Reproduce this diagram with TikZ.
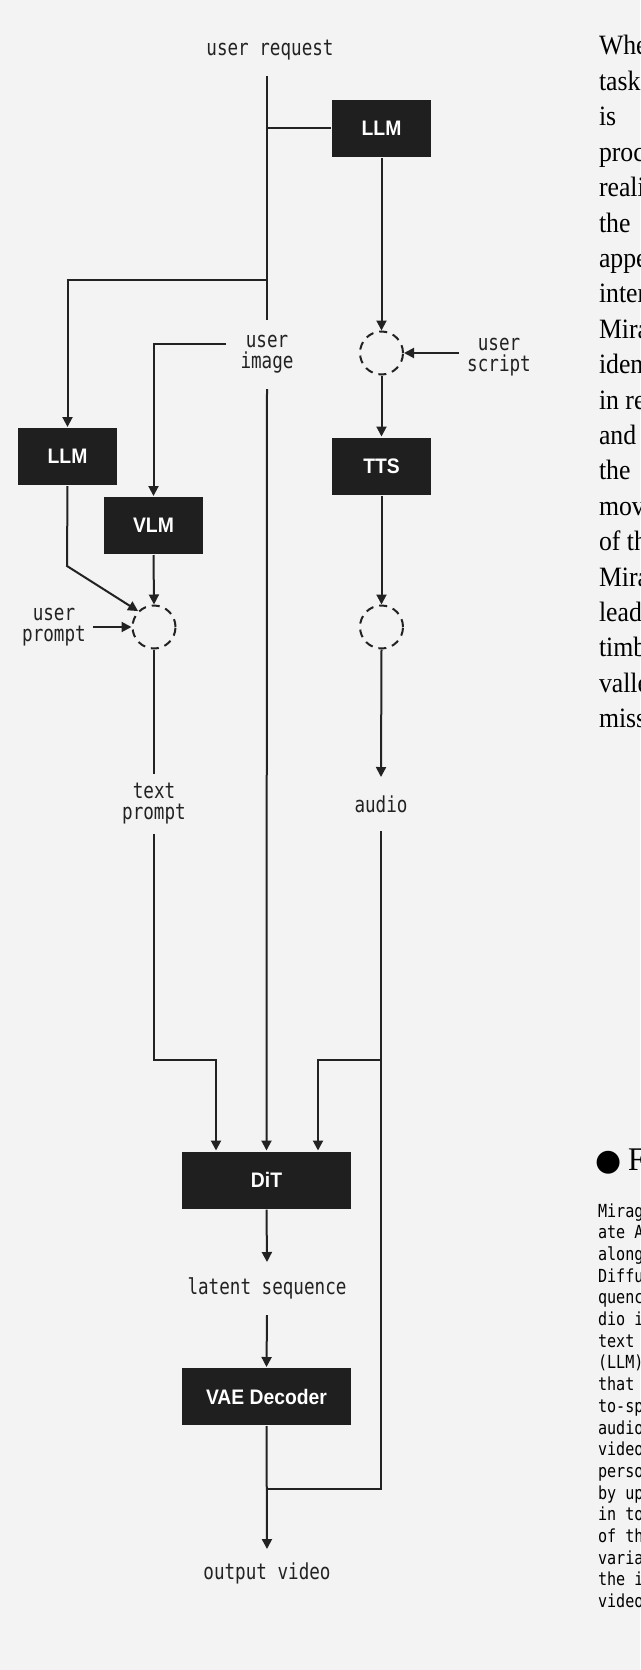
\documentclass[tikz,border=0pt]{standalone}
\usepackage{fontspec}
\setmainfont{Liberation Serif}[FakeStretch=0.92]
\newfontfamily\labelmono{DejaVu Sans Mono}[FakeStretch=0.8]
\newfontfamily\pagemono{DejaVu Sans Mono}[FakeStretch=0.84]
\newfontfamily\blockfont{Liberation Sans}[FakeStretch=0.92]
\newfontfamily\dotfont{DejaVu Sans}
\usetikzlibrary{arrows.meta, calc}
\definecolor{pagebg}{HTML}{F3F3F3}
\definecolor{boxc}{HTML}{1F1F1F}
\definecolor{linec}{HTML}{222222}

\begin{document}
\begin{tikzpicture}[x=1pt, y=-1pt,
    line width=2pt, draw=linec,
    arr/.style={-{Triangle[length=10pt,width=10pt]}},
    block/.style={fill=boxc, text=white, inner sep=0pt, minimum height=57pt,
        font=\blockfont\bfseries\fontsize{21}{24}\selectfont},
    lbl/.style={text=linec, inner sep=0pt, align=center,
        font=\labelmono\fontsize{22}{21}\selectfont},
    mix/.style={circle, draw=linec, dash pattern=on 8pt off 6pt, minimum size=43pt, inner sep=0pt}]
        \fill[pagebg] (0,0) rectangle (640,1670);
        \useasboundingbox (0,0) rectangle (640,1670);

        % Blocks
        \node[block, minimum width=99pt]  (LLMa) at (381.5, 128)   {LLM};
        \node[block, minimum width=99pt]  (LLMb) at ( 67.5, 456.5) {LLM};
        \node[block, minimum width=99pt]  (VLM)  at (153.5, 525.5) {VLM};
        \node[block, minimum width=99pt]  (TTS)  at (381.5, 466)   {TTS};
        \node[block, minimum width=169pt] (DiT)  at (266.5, 1180)  {DiT};
        \node[block, minimum width=169pt] (VAE)  at (266.5, 1396.5) {VAE Decoder};

        % Mixing points
        \node[mix] (mixA) at (381.5, 353) {};
        \node[mix] (mixB) at (154, 627)   {};
        \node[mix] (mixC) at (381.5, 627) {};

        % Labels
        \node[lbl, minimum height=50pt] (ureq)   at (270, 50)     {user request};
        \node[lbl, minimum height=67pt] (uimg)   at (267, 354.5)  {user\\image};
        \node[lbl, inner xsep=7pt]      (uscr)   at (499, 357)    {user\\script};
        \node[lbl, inner xsep=6pt]      (uprm)   at (54, 627)     {user\\prompt};
        \node[lbl, minimum height=58pt] (tprm)   at (154, 804)    {text\\prompt};
        \node[lbl, minimum height=52pt] (audio)  at (381, 804)    {audio};
        \node[lbl, minimum height=51pt] (latent) at (267, 1288.5) {latent sequence};
        \node[lbl, minimum height=46pt] (outv)   at (267, 1573)   {output video};

        % Elbows
        \coordinate (brL)  at (267, 280);
        \coordinate (imgL) at (226, 344);
        \coordinate (kink) at (67, 566);
        \coordinate (dL)   at (216, 1060);
        \coordinate (dR)   at (318, 1060);
        \coordinate (jn)   at (267, 1489);

        % Request path
        \draw (ureq.south -| uimg.north) -- (uimg.north);
        \draw[arr] (uimg.south) -- (DiT.north);
        \draw (LLMa.west) -- (LLMa.west -| uimg.north);
        \draw[arr] (brL) -| (LLMb.north);

        % Audio branch
        \draw[arr] (LLMa.south) -- (mixA.north);
        \draw[arr] (uscr.west |- mixA.east) -- (mixA.east);
        \draw[arr] (mixA.south) -- (TTS.north);
        \draw[arr] (TTS.south) -- (mixC.north);
        \draw[arr] (mixC.south) -- (audio.north);
        \draw (audio.south) |- (jn);
        \draw[arr] (audio.south |- dR) -- (dR) -- (dR |- DiT.north);

        % Prompt branch
        \draw[arr] (imgL) -| (VLM.north);
        \draw[arr] (VLM.south) -- (mixB.north);
        \draw[arr] (LLMb.south) -- (kink) -- (mixB.north west);
        \draw[arr] (uprm.east) -- (mixB.west);
        \draw (mixB.south) -- (tprm.north);
        \draw[arr] (tprm.south) |- (dL) -- (dL |- DiT.north);

        % Decoding
        \draw[arr] (DiT.south) -- (latent.north);
        \draw[arr] (latent.south) -- (VAE.north);
        \draw[arr] (VAE.south) -- (outv.north);

        % Page text cut off at the right edge
        \begin{scope}
            \clip (0,0) rectangle (640,1670);
            \foreach \w [count=\i] in {When,tasks,is,process,realis,the,appea,inter,Mira,ident,in re,and,the,move,of the,Mira,lead,timbr,valle,miss}
                \node[anchor=base west, inner sep=0pt, font=\fontsize{28}{30}\selectfont] at (598, {55+35.4*(\i-1)}) {\w};
            \node[anchor=base west, inner sep=0pt, font=\dotfont\fontsize{30}{32}\selectfont] (dot) at (594, 1170) {●};
            \node[anchor=base west, inner sep=0pt, font=\fontsize{33}{36}\selectfont] at (627, 1170) {Fe};
            \foreach \w [count=\i] in {Mirag,ate A,along,Diffu,quenc,dio i,text ,(LLM),that ,to-sp,audio,video,perso,by up,in to,of th,varia,the i,video}
                \node[anchor=base west, inner sep=0pt, font=\pagemono\fontsize{18}{20}\selectfont] at (597, {1217+21.7*(\i-1)}) {\w};
        \end{scope}
    \end{tikzpicture}
\end{document}
